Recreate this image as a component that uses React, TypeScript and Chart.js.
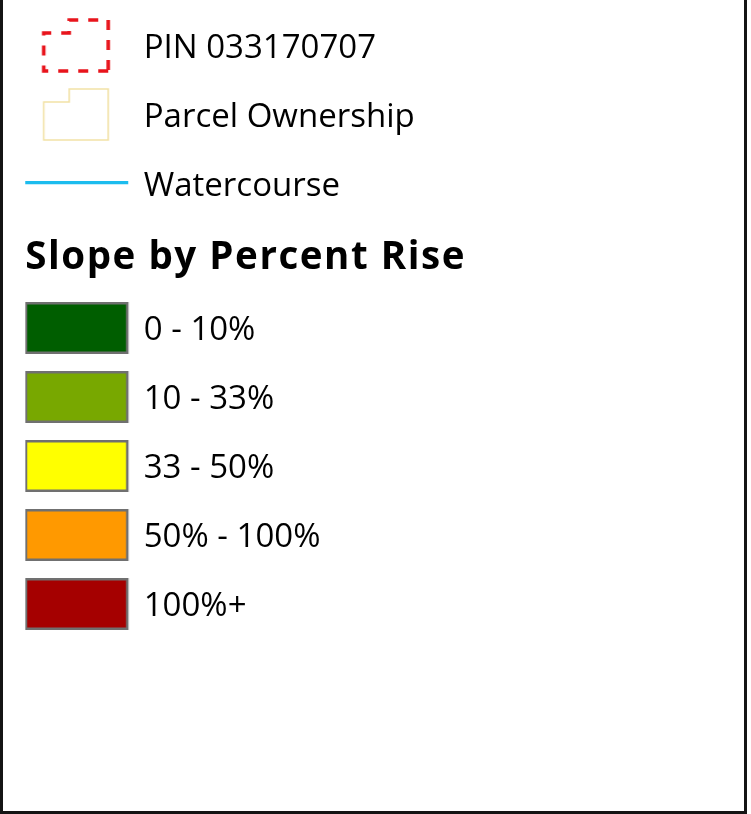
import React, { useEffect, useRef } from 'react';
import { Chart, registerables } from 'chart.js';

Chart.register(...registerables);

// ---- data ----
const REF_LABELS = ['PIN 033170707', 'Parcel Ownership', 'Watercourse'];
const REF_KINDS = ['dashedParcel', 'parcel', 'line'];
const REF_COLORS = ['#e8141c', '#f2e2a6', '#1cbcee'];

const SLOPE_TITLE = 'Slope by Percent Rise';
const SLOPE_LABELS = ['0 - 10%', '10 - 33%', '33 - 50%', '50% - 100%', '100%+'];
const SLOPE_COLORS = ['#005e00', '#78a800', '#ffff00', '#ff9900', '#a50000'];
const SWATCH_BORDER = '#707070';

// ---- layout / style ----
const FONT_FAMILY = '"Open Sans", "Noto Sans", sans-serif';
const LABEL_SIZE = 33;
const TITLE_SIZE = 38.5;
const TITLE_SPACING = '1.55px';
const PAD_L = 22.25;
const LABEL_PAD = 36;
const PSW = 66;
const ICON_W = 150;
const CANVAS_W = 1400;

function makeRefIcon(kind: string, color: string): HTMLCanvasElement {
  const c = document.createElement('canvas');
  c.width = ICON_W;
  c.height = 77;
  const ctx = c.getContext('2d')!;
  ctx.strokeStyle = color;
  if (kind === 'line') {
    ctx.lineWidth = 3.3;
    ctx.beginPath();
    ctx.moveTo(4, 34.7);
    ctx.lineTo(109, 34.7);
    ctx.stroke();
  } else {
    const pts = [[89, 61], [24.5, 61], [24.5, 23], [50, 23], [50, 10], [89, 10]];
    ctx.beginPath();
    pts.forEach(([x, y], i) => (i ? ctx.lineTo(x, y) : ctx.moveTo(x, y)));
    ctx.closePath();
    if (kind === 'dashedParcel') {
      ctx.lineWidth = 3.6;
      ctx.setLineDash([10, 10]);
    } else {
      ctx.lineWidth = 1.6;
    }
    ctx.stroke();
  }
  return c;
}

function makeSwatch(color: string): HTMLCanvasElement {
  const c = document.createElement('canvas');
  c.width = ICON_W;
  c.height = 62;
  const ctx = c.getContext('2d')!;
  ctx.fillStyle = color;
  ctx.strokeStyle = SWATCH_BORDER;
  ctx.lineWidth = 2.5;
  ctx.beginPath();
  ctx.rect(6.75, 3.25, 101.3, 49.5);
  ctx.fill();
  ctx.stroke();
  return c;
}

function legendOnlyChart(
  canvas: HTMLCanvasElement,
  labels: string[],
  colors: string[],
  icons: HTMLCanvasElement[],
  padTop: number
) {
  return new Chart(canvas, {
    type: 'bar',
    data: {
      labels: [],
      datasets: labels.map((l, i) => ({ label: l, data: [], backgroundColor: colors[i] })),
    },
    options: {
      animation: false,
      responsive: false,
      events: [],
      layout: { padding: { left: PAD_L, top: padTop, right: 0, bottom: 0 } },
      scales: { x: { display: false }, y: { display: false } },
      plugins: {
        tooltip: { enabled: false },
        title: { display: false },
        legend: {
          display: true,
          position: 'left',
          align: 'start',
          labels: {
            usePointStyle: true,
            pointStyleWidth: PSW,
            padding: LABEL_PAD,
            color: '#000',
            font: { family: FONT_FAMILY, size: LABEL_SIZE },
            generateLabels: () =>
              labels.map((text, i) => ({
                text,
                pointStyle: icons[i],
                fillStyle: colors[i],
                strokeStyle: 'rgba(0,0,0,0)',
                lineWidth: 0,
                hidden: false,
                datasetIndex: i,
                fontColor: '#000',
              })),
          },
        },
      },
    } as any,
  });
}

const spacingPlugin = {
  id: 'titleSpacing',
  beforeDraw(chart: any) {
    (chart.ctx as any).letterSpacing = TITLE_SPACING;
  },
  afterDraw(chart: any) {
    (chart.ctx as any).letterSpacing = '0px';
  },
};

function titleOnlyChart(canvas: HTMLCanvasElement, text: string) {
  return new Chart(canvas, {
    type: 'bar',
    data: { labels: [], datasets: [] },
    options: {
      animation: false,
      responsive: false,
      events: [],
      layout: { padding: { left: PAD_L, top: 0, right: 0, bottom: 0 } },
      scales: { x: { display: false }, y: { display: false } },
      plugins: {
        tooltip: { enabled: false },
        legend: { display: false },
        title: {
          display: true,
          text,
          color: '#000',
          align: 'start',
          position: 'top',
          font: { family: FONT_FAMILY, size: TITLE_SIZE, weight: 'bold', lineHeight: 1 },
          padding: { top: 0, bottom: 0 },
        },
      },
    } as any,
    plugins: [spacingPlugin],
  });
}

export default function App() {
  const refA = useRef<HTMLCanvasElement>(null);
  const refT = useRef<HTMLCanvasElement>(null);
  const refB = useRef<HTMLCanvasElement>(null);

  useEffect(() => {
    document.body.style.margin = '0';
    document.body.style.background = '#fff';
    const iconsA = REF_KINDS.map((k, i) => makeRefIcon(k, REF_COLORS[i]));
    const iconsB = SLOPE_COLORS.map((c) => makeSwatch(c));
    const a = legendOnlyChart(refA.current!, REF_LABELS, REF_COLORS, iconsA, 0);
    const t = titleOnlyChart(refT.current!, SLOPE_TITLE);
    const b = legendOnlyChart(refB.current!, SLOPE_LABELS, SLOPE_COLORS, iconsB, 0.5);
    return () => {
      a.destroy();
      t.destroy();
      b.destroy();
    };
  }, []);

  return (
    <div
      style={{
        position: 'relative',
        width: 747,
        height: 814,
        boxSizing: 'border-box',
        borderLeft: '3px solid #141414',
        borderRight: '3px solid #141414',
        borderBottom: '3px solid #141414',
        background: '#fff',
        overflow: 'hidden',
      }}
    >
      <canvas
        ref={refA}
        width={CANVAS_W}
        height={262}
        style={{ position: 'absolute', left: 0, top: -4, display: 'block' }}
      />
      <canvas
        ref={refT}
        width={CANVAS_W}
        height={60}
        style={{ position: 'absolute', left: 0, top: 239, display: 'block' }}
      />
      <canvas
        ref={refB}
        width={CANVAS_W}
        height={500}
        style={{ position: 'absolute', left: 0, top: 278, display: 'block' }}
      />
    </div>
  );
}
